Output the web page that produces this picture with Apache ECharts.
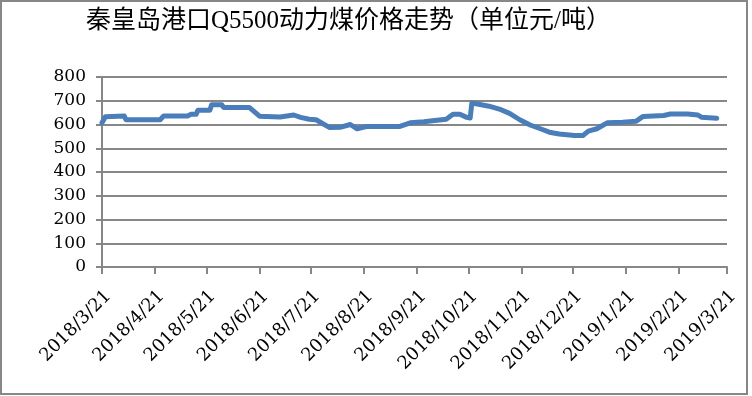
<!DOCTYPE html>
<html>
<head>
<meta charset="utf-8">
<script src="https://cdn.jsdelivr.net/npm/echarts@6/dist/echarts.min.js"></script>
<style>
html,body{margin:0;padding:0;background:#fff;}
#chart{width:752px;height:396px;}
</style>
</head>
<body>
<div id="chart"></div>
<script>
const titleText = '秦皇岛港口Q5500动力煤价格走势（单位元/吨）';
const tickLabels = ['2018/3/21','2018/4/21','2018/5/21','2018/6/21','2018/7/21','2018/8/21','2018/9/21','2018/10/21','2018/11/21','2018/12/21','2019/1/21','2019/2/21','2019/3/21'];
const dates = ['2018/3/21','2018/3/23','2018/4/3','2018/4/4','2018/4/24','2018/4/26','2018/5/10','2018/5/12','2018/5/15','2018/5/16','2018/5/23','2018/5/24','2018/5/30','2018/5/31','2018/6/15','2018/6/21','2018/7/3','2018/7/4','2018/7/11','2018/7/15','2018/7/20','2018/7/24','2018/8/1','2018/8/7','2018/8/13','2018/8/17','2018/8/23','2018/9/11','2018/9/17','2018/9/25','2018/9/30','2018/10/8','2018/10/12','2018/10/16','2018/10/20','2018/10/22','2018/10/23','2018/10/27','2018/11/2','2018/11/8','2018/11/14','2018/11/20','2018/11/26','2018/12/2','2018/12/8','2018/12/13','2018/12/22','2018/12/27','2018/12/30','2019/1/4','2019/1/10','2019/1/19','2019/1/27','2019/1/31','2019/2/12','2019/2/16','2019/2/26','2019/3/4','2019/3/6','2019/3/15'];
const prices = [607,633,636,620,620,636,636,643,643,660,660,683,683,672,672,635,632,640,640,630,622,620,587,588,600,582,592,592,607,612,616,622,643,643,630,627,690,685,677,665,647,620,598,582,566,560,554,554,572,582,607,610,614,634,638,644,644,640,631,626];

// daily category axis spanning the tick range
const categories = [];
for (let t = Date.UTC(2018,2,21); t <= Date.UTC(2019,2,21); t += 86400000) {
  const d = new Date(t);
  categories.push(d.getUTCFullYear() + '/' + (d.getUTCMonth()+1) + '/' + d.getUTCDate());
}
const tickSet = new Set(tickLabels);
const showTick = (i, v) => tickSet.has(v);

const chart = echarts.init(document.getElementById('chart'));
const gray = '#878787';
chart.setOption({
  animation: false,
  backgroundColor: '#fff',
  title: {
    text: titleText,
    left: 86, top: 9, padding: 0,
    textStyle: {fontFamily: '"Liberation Serif","Noto Sans CJK SC",serif', fontSize: 25, fontWeight: 'normal', color: '#000'}
  },
  graphic: [{
    type: 'rect', silent: true,
    shape: {x: 1, y: 1, width: 746, height: 393},
    style: {fill: null, stroke: gray, lineWidth: 2}
  }],
  grid: {left: 102, right: 25, top: 77, bottom: 129, containLabel: false},
  xAxis: {
    type: 'category',
    data: categories,
    boundaryGap: false,
    axisLine: {lineStyle: {color: gray, width: 2}},
    axisTick: {show: true, interval: showTick, length: 7, lineStyle: {color: gray, width: 2}},
    axisLabel: {interval: showTick, rotate: 45, margin: 20, verticalAlign: 'top', color: '#000', fontFamily: '"DejaVu Serif",serif', fontSize: 18},
    splitLine: {show: false}
  },
  yAxis: {
    type: 'value', min: 0, max: 800, interval: 100,
    axisLine: {show: true, lineStyle: {color: gray, width: 2}},
    axisTick: {show: true, length: 6, lineStyle: {color: gray, width: 2}},
    axisLabel: {margin: 16, color: '#000', fontFamily: '"DejaVu Serif",serif', fontSize: 17},
    splitLine: {show: true, lineStyle: {color: gray, width: 2}}
  },
  series: [{
    type: 'line',
    data: dates.map((d, i) => [d, prices[i]]),
    showSymbol: false, symbol: 'none',
    lineStyle: {color: '#4a7ebb', width: 5, cap: 'round', join: 'round'},
    itemStyle: {color: '#4a7ebb'}
  }]
});
</script>
</body>
</html>
